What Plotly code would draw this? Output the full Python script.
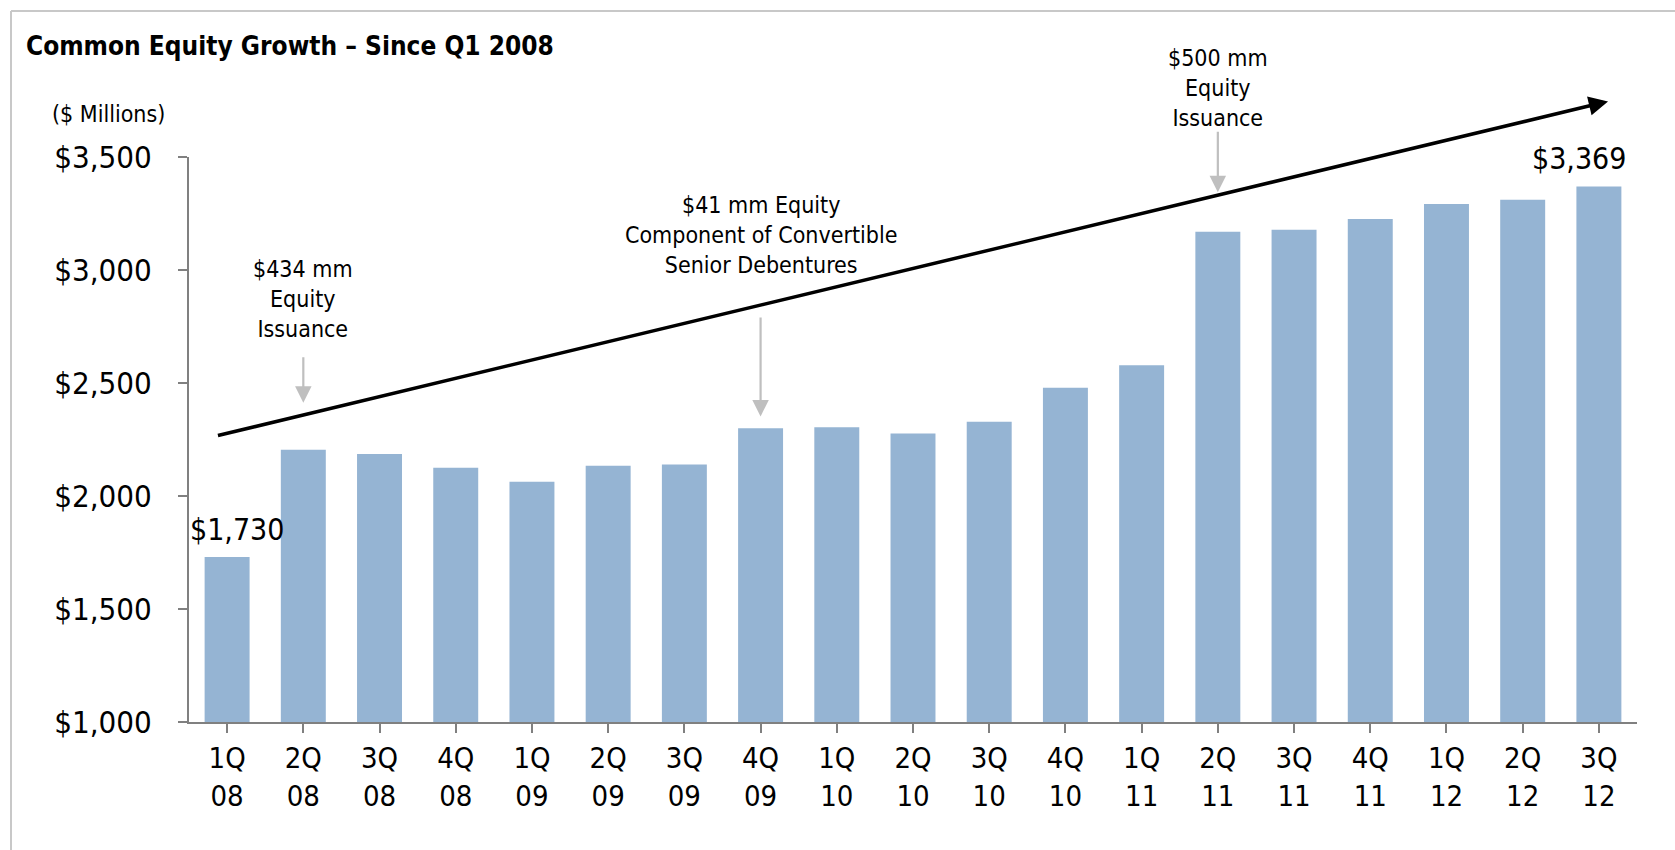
import plotly.graph_objects as go

categories = ["1Q<br>08", "2Q<br>08", "3Q<br>08", "4Q<br>08", "1Q<br>09", "2Q<br>09", "3Q<br>09",
              "4Q<br>09", "1Q<br>10", "2Q<br>10", "3Q<br>10", "4Q<br>10", "1Q<br>11", "2Q<br>11",
              "3Q<br>11", "4Q<br>11", "1Q<br>12", "2Q<br>12", "3Q<br>12"]
equity = [1730, 2205, 2186, 2125, 2063, 2134, 2139, 2300, 2304, 2276, 2328, 2479, 2578,
          3169, 3178, 3226, 3292, 3311, 3369]
labelled_points = [0, 18]
ytick_vals = [1000, 1500, 2000, 2500, 3000, 3500]
ytick_text = ["$1,000", "$1,500", "$2,000", "$2,500", "$3,000", "$3,500"]

FONT = "Liberation Sans Narrow, DejaVu Sans Condensed, Arial Narrow, sans-serif"
W, H = 1675, 850
L, R, T, B = 189, 38, 157, 128

pw = W - L - R
ph = H - T - B
def px2x(p):
    return (p - L) / pw
def py2y(p):
    return (H - B - p) / ph

fig = go.Figure()
fig.add_trace(go.Bar(
    x=list(range(len(categories))), y=equity,
    marker=dict(color="#95b4d3", line=dict(width=0)),
    width=0.59, hoverinfo="y",
))

# data labels on first and last bars
for i, xs in zip(labelled_points, [10, -20]):
    fig.add_annotation(x=i, y=equity[i], xref="x", yref="y",
                       text="${:,}".format(equity[i]), showarrow=False,
                       xanchor="center", yanchor="middle", xshift=xs, yshift=28,
                       font=dict(family=FONT, size=30, color="#000000"))

# gray annotation arrows (tip at data coordinates)
notes = [
    (1, 2413, 2621, 280, "$434 mm<br>Equity<br>Issuance"),
    (7, 2352, 2796, 220, "$41 mm Equity<br>Component of Convertible<br>Senior Debentures"),
    (13, 3344, 3618, 82, "$500 mm<br>Equity<br>Issuance"),
]
for xi, tip, tail, ty_px, txt in notes:
    fig.add_annotation(x=xi, y=tip, ax=xi, ay=tail, axref="x", ayref="y",
                       xref="x", yref="y", text="", showarrow=True,
                       arrowhead=2, arrowsize=1.5, arrowwidth=2.2, arrowcolor="#bfbfbf")
    fig.add_annotation(x=xi, y=py2y(ty_px * 1675 / 1568), xref="x", yref="paper", text=txt,
                       showarrow=False,
                       font=dict(family=FONT, size=23, color="#000000"),
                       xanchor="center", yanchor="middle", align="center")

# black trend arrow
fig.add_annotation(x=18.12, y=3746, ax=-0.14, ay=2266, axref="x", ayref="y",
                   xref="x", yref="y", text="", showarrow=True,
                   arrowhead=2, arrowsize=1.1, arrowwidth=3.5, arrowcolor="#000000")

# title and unit label
fig.add_annotation(x=px2x(24), y=py2y(46), xref="paper", yref="paper",
                   text="<b>Common Equity Growth – Since Q1 2008</b>", showarrow=False,
                   xanchor="left", yanchor="middle",
                   font=dict(family=FONT, size=26, color="#000000"))
fig.add_annotation(x=px2x(50), y=py2y(114), xref="paper", yref="paper",
                   text="($ Millions)", showarrow=False, xanchor="left", yanchor="middle",
                   font=dict(family=FONT, size=23, color="#000000"))

# frame (top and left lines)
fig.add_shape(type="line", xref="paper", yref="paper",
              x0=px2x(11), x1=px2x(1700), y0=py2y(11), y1=py2y(11),
              line=dict(color="#c8c8c8", width=2))
fig.add_shape(type="line", xref="paper", yref="paper",
              x0=px2x(11), x1=px2x(11), y0=py2y(11), y1=py2y(870),
              line=dict(color="#c8c8c8", width=2))

fig.update_layout(
    width=W, height=H,
    margin=dict(l=L, r=R, t=T, b=B, autoexpand=False),
    paper_bgcolor="white", plot_bgcolor="white",
    showlegend=False,
    font=dict(family=FONT, color="#000000"),
    xaxis=dict(
        tickmode="array", tickvals=list(range(len(categories))), ticktext=categories,
        range=[-0.5, len(categories) - 0.5],
        showline=True, linecolor="#808080", linewidth=2,
        ticks="outside", ticklen=9, tickcolor="#808080", tickwidth=2,
        showgrid=False, zeroline=False,
        tickfont=dict(family=FONT, size=29, color="#000000"),
    ),
    yaxis=dict(
        range=[1000, 3500], tickmode="array", tickvals=ytick_vals, ticktext=ytick_text,
        showline=True, linecolor="#808080", linewidth=2,
        ticks="outside", ticklen=9, tickcolor="#808080", tickwidth=2,
        showgrid=False, zeroline=False, ticklabelstandoff=20,
        tickfont=dict(family=FONT, size=31, color="#000000"),
    ),
)

fig.write_html("out.html")
